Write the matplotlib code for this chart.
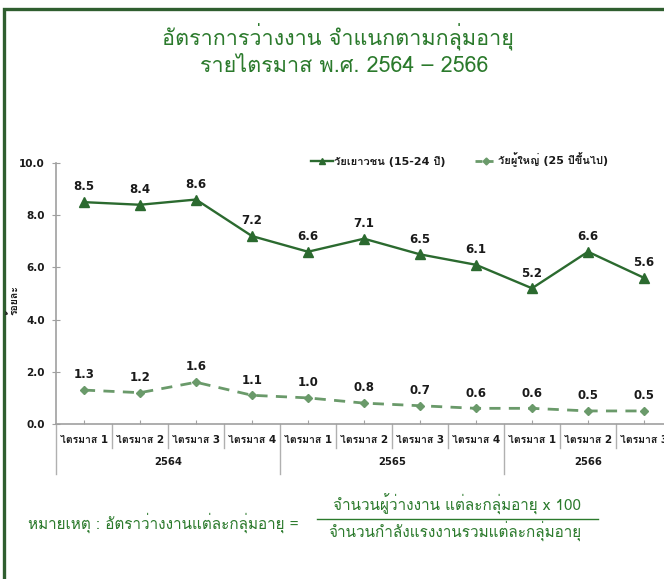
import matplotlib
matplotlib.use("Agg")
import matplotlib.pyplot as plt
import matplotlib.font_manager as fm
from matplotlib import ft2font
from matplotlib.lines import Line2D
from matplotlib.patches import Rectangle

# ---------------- data ----------------
quarters = ["ไตรมาส 1", "ไตรมาส 2", "ไตรมาส 3", "ไตรมาส 4",
            "ไตรมาส 1", "ไตรมาส 2", "ไตรมาส 3", "ไตรมาส 4",
            "ไตรมาส 1", "ไตรมาส 2", "ไตรมาส 3"]
years = ["2564", "2565", "2566"]
year_spans = [(0, 3), (4, 7), (8, 10)]
youth = [8.5, 8.4, 8.6, 7.2, 6.6, 7.1, 6.5, 6.1, 5.2, 6.6, 5.6]
adult = [1.3, 1.2, 1.6, 1.1, 1.0, 0.8, 0.7, 0.6, 0.6, 0.5, 0.5]
series_names = ["วัยเยาวชน (15-24 ปี)", "วัยผู้ใหญ่ (25 ปีขึ้นไป)"]
yticks = [0, 2, 4, 6, 8, 10]
title1 = "อัตราการว่างงาน จำแนกตามกลุ่มอายุ"
title2 = "รายไตรมาส พ.ศ. 2564 – 2566"
ylabel = "ร้อยละ"
note_left = "หมายเหตุ : อัตราว่างงานแต่ละกลุ่มอายุ ="
note_num = "จำนวนผู้ว่างงาน แต่ละกลุ่มอายุ x 100"
note_den = "จำนวนกำลังแรงงานรวมแต่ละกลุ่มอายุ"

# ---------------- fonts ----------------
thai = None
for f in fm.fontManager.ttflist:
    try:
        ft = ft2font.FT2Font(f.fname)
        if ft.get_char_index(0x0E01) and ft.get_char_index(0x0E32) and ft.get_char_index(0x0E49):
            thai = f.name
            break
    except Exception:
        pass
thai_list = [thai] if thai else []
MIX = ["DejaVu Sans"] + thai_list          # Latin/digits in DejaVu, Thai falls back
THAI = thai_list + ["DejaVu Sans"]
plt.rcParams["font.family"] = MIX

W, H = 664, 579
def fx(x): return x / W
def fy(y): return 1 - y / H

fig = plt.figure(figsize=(W / 100, H / 100), dpi=100)
fig.patch.set_facecolor("white")

# frame
fig.patches.append(Rectangle((fx(4), fy(H + 20)), fx(W + 20), (H + 20 - 9) / H,
                             transform=fig.transFigure, fill=False,
                             edgecolor="#2f5e2f", linewidth=2.4, clip_on=False))

GREEN_T = "#2b7a2c"
C1 = "#2b6a2f"
C2 = "#6a9a6a"
TXT = "#1a1a1a"

ax_left, ax_right, ax_top, ax_bot = 56, 672, 163, 424
ax = fig.add_axes([fx(ax_left), fy(ax_bot), (ax_right - ax_left) / W, (ax_bot - ax_top) / H])
ax.set_xlim(-0.5, len(quarters) - 0.5)
ax.set_ylim(0, 10)

x = list(range(len(quarters)))
l1, = ax.plot(x, youth, color=C1, lw=1.7, marker="^", markersize=6.5, clip_on=False)
l2, = ax.plot(x, adult, color=C2, lw=2.0, linestyle=(0, (4, 3)), marker="D",
              markersize=4.5, clip_on=False)

for series in (youth, adult):
    for xi, v in zip(x, series):
        ax.annotate(f"{v:.1f}", (xi, v), xytext=(0, 11), textcoords="offset points",
                    ha="center", va="center", fontsize=8.5, fontweight="bold", color=TXT,
                    family="DejaVu Sans", annotation_clip=False)

for s in ["top", "right"]:
    ax.spines[s].set_visible(False)
for s in ["left", "bottom"]:
    ax.spines[s].set_color("#a0a0a0")
    ax.spines[s].set_linewidth(1.2)

ax.set_yticks(yticks)
ax.set_yticklabels([f"{t:.1f}" for t in yticks], fontsize=7.5, fontweight="bold", color=TXT)
ax.tick_params(axis="y", direction="inout", length=6, color="#a0a0a0", pad=5)

ax.set_xticks(x)
ax.set_xticklabels(quarters, fontsize=7.5, fontweight="bold", color=TXT)
ax.tick_params(axis="x", direction="in", length=3, color="#a0a0a0", pad=8)

# category separators
trans = ax.get_xaxis_transform()
hgt = ax_bot - ax_top
sep_short = -(448 - ax_bot) / hgt
sep_long = -(474 - ax_bot) / hgt
group_starts = [s for s, e in year_spans]
for k in range(len(quarters)):
    xs = k - 0.5
    yb = sep_long if k in group_starts else sep_short
    ax.plot([xs, xs], [0, yb], transform=trans, color="#b0b0b0", lw=1.0, clip_on=False)

year_y = -(462 - ax_bot) / hgt
for yr, (s, e) in zip(years, year_spans):
    ax.text((s + e) / 2, year_y, yr, transform=trans,
            ha="center", va="center", fontsize=7.2, fontweight="bold", color=TXT)

fig.text(fx(14), fy(300), ylabel, rotation=90, ha="center", va="center",
         fontsize=7.5, fontweight="bold", color=TXT, family=THAI)

leg_h1 = Line2D([], [], color=C1, lw=1.7, marker="^", markersize=4.5)
leg_h2 = Line2D([], [], color=C2, lw=2.0, linestyle=(0, (2.5, 1.5)), marker="D", markersize=3.5)
leg = fig.legend([leg_h1, leg_h2], series_names, loc="center left",
                 bbox_to_anchor=(fx(311), fy(160)), ncol=2, frameon=False,
                 prop={"size": 8, "weight": "bold"}, handlelength=2.0,
                 handletextpad=0.1, columnspacing=2.6, borderpad=0, borderaxespad=0)
for t in leg.get_texts():
    t.set_color(TXT)

# title
fig.text(fx(338), fy(37), title1, ha="center", va="center", fontsize=15.5, color=GREEN_T, family=THAI)
fig.text(fx(344), fy(67), title2, ha="center", va="center", fontsize=15.5, color=GREEN_T, family=THAI)

# footnote
fig.text(fx(28), fy(523), note_left, ha="left", va="center", fontsize=11, color=GREEN_T, family=THAI)
fig.text(fx(457), fy(504), note_num, ha="center", va="center", fontsize=11, color=GREEN_T, family=THAI)
fig.text(fx(455), fy(531), note_den, ha="center", va="center", fontsize=11, color=GREEN_T, family=THAI)
fig.lines.append(Line2D([fx(317), fx(598)], [fy(519), fy(519)], transform=fig.transFigure,
                        color=GREEN_T, lw=1.0))

fig.savefig("out.png", dpi=100)
